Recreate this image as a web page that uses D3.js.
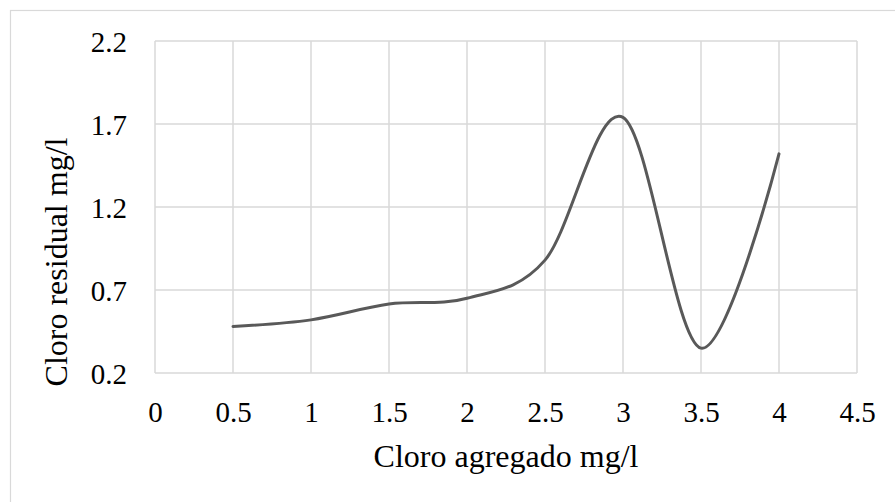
<!DOCTYPE html>
<html>
<head>
<meta charset="utf-8">
<script src="https://cdn.jsdelivr.net/npm/d3@7"></script>
<style>
	body { margin: 0; background: #fff; }
</style>
</head>
<body>
<div id="chart"></div>
<script>
	"use strict";

	// data
	var cloroAgregado = [0.5, 1, 1.5, 2, 2.5, 3, 3.5, 4];
	var cloroResidual = [0.48, 0.52, 0.615, 0.65, 0.88, 1.74, 0.35, 1.52];
	var xTicks = [0, 0.5, 1, 1.5, 2, 2.5, 3, 3.5, 4, 4.5];
	var yTicks = [0.2, 0.7, 1.2, 1.7, 2.2];

	var width = 895, height = 502;
	var plot = {left: 155, right: 857, top: 41, bottom: 373};
	var gridColor = "#d9d9d9";
	var serif = "Liberation Serif";

	var svg = d3.select("#chart").append("svg")
		.attr("width", width)
		.attr("height", height)
		.attr("font-family", serif);

	// outer chart border
	svg.append("rect")
		.attr("x", 10.5).attr("y", 10.5)
		.attr("width", width).attr("height", height)
		.attr("fill", "none")
		.attr("stroke", gridColor)
		.attr("stroke-width", 1.2);

	var xScale = d3.scaleLinear().domain([0, 4.5]).range([plot.left, plot.right]);
	var yScale = d3.scaleLinear().domain([0.2, 2.2]).range([plot.bottom, plot.top]);

	// vertical grid
	svg.append("g")
		.selectAll("line")
		.data(xTicks)
		.enter().append("line")
		.attr("x1", function(d) { return xScale(d); })
		.attr("x2", function(d) { return xScale(d); })
		.attr("y1", plot.top).attr("y2", plot.bottom)
		.attr("stroke", gridColor).attr("stroke-width", 1.5);

	// horizontal grid
	svg.append("g")
		.selectAll("line")
		.data(yTicks)
		.enter().append("line")
		.attr("x1", plot.left).attr("x2", plot.right)
		.attr("y1", function(d) { return yScale(d); })
		.attr("y2", function(d) { return yScale(d); })
		.attr("stroke", gridColor).attr("stroke-width", 1.5);

	// x axis labels
	var xAxis = d3.axisBottom(xScale).tickValues(xTicks).tickSize(0).tickPadding(0)
		.tickFormat(d3.format("~g"));
	var gx = svg.append("g").attr("transform", "translate(0," + (plot.bottom + 28) + ")").call(xAxis);
	gx.attr("font-family", serif).attr("font-size", 29);
	gx.select(".domain").remove();
	gx.selectAll("text").attr("dy", "0.71em").attr("fill", "#000");

	// y axis labels
	var yAxis = d3.axisLeft(yScale).tickValues(yTicks).tickSize(0).tickPadding(0)
		.tickFormat(d3.format(".1f"));
	var gy = svg.append("g").attr("transform", "translate(127,0)").call(yAxis);
	gy.attr("font-family", serif).attr("font-size", 29);
	gy.select(".domain").remove();
	gy.selectAll("text").attr("dy", "0.35em").attr("fill", "#000");

	// smoothed line
	var points = cloroAgregado.map(function(x, i) { return [x, cloroResidual[i]]; });
	var line = d3.line()
		.x(function(d) { return xScale(d[0]); })
		.y(function(d) { return yScale(d[1]); })
		.curve(d3.curveCardinal.tension(0));
	svg.append("path")
		.datum(points)
		.attr("d", line)
		.attr("fill", "none")
		.attr("stroke", "#595959")
		.attr("stroke-width", 3)
		.attr("stroke-linecap", "round");

	// axis titles
	svg.append("text")
		.attr("x", (plot.left + plot.right) / 2)
		.attr("y", 467)
		.attr("text-anchor", "middle")
		.attr("font-size", 32)
		.attr("fill", "#000")
		.text("Cloro agregado mg/l");

	svg.append("text")
		.attr("transform", "translate(67,262) rotate(-90)")
		.attr("text-anchor", "middle")
		.attr("font-size", 32)
		.attr("fill", "#000")
		.text("Cloro residual mg/l");
</script>
</body>
</html>
